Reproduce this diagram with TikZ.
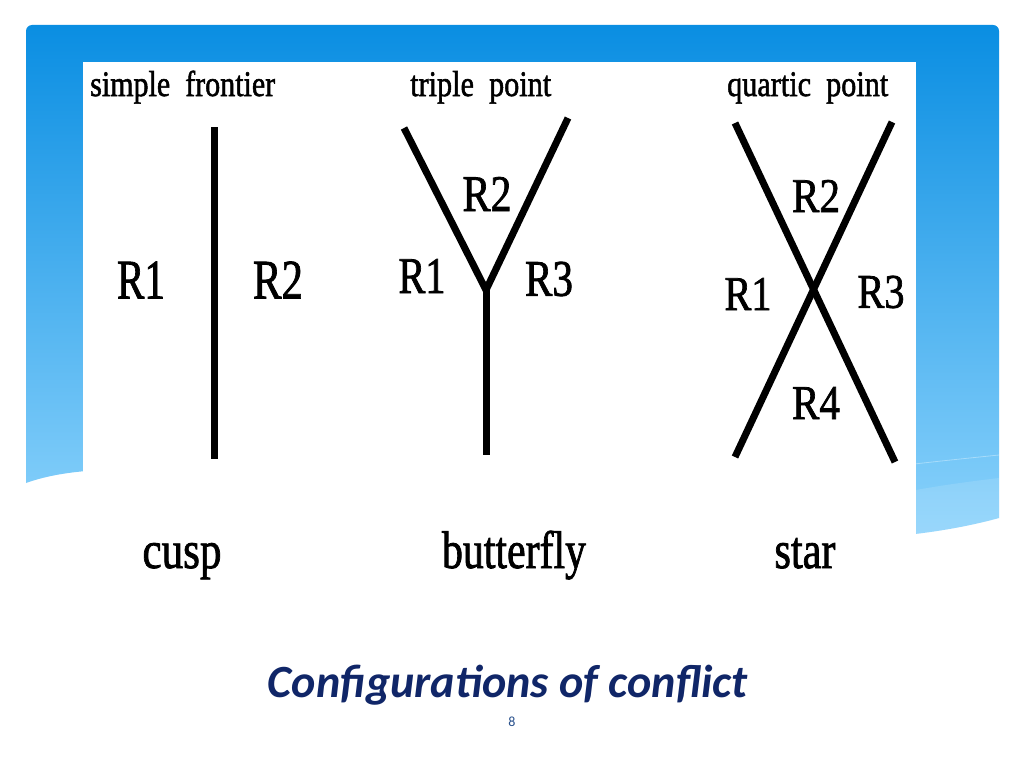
\documentclass[tikz,border=0pt]{standalone}
\usepackage{graphicx}
\usepackage{fontspec}
\setmainfont{Liberation Serif}
\newfontfamily\lblfont[BoldFont={Liberation Serif}, BoldFeatures={FakeBold=1.6}]{Liberation Serif}
\newfontfamily\titlefont{Carlito}
\definecolor{panTop}{RGB}{10,142,226}
\definecolor{panBot}{RGB}{155,219,255}
\definecolor{titleBlue}{RGB}{16,38,104}
\definecolor{numBlue}{RGB}{40,80,140}
\newcommand{\fitw}[2]{\resizebox{#1}{\height}{#2}}
\newcommand{\fitwh}[3]{\resizebox{#1}{#2}{#3}}
\tikzset{
  seg/.style={line width=7pt, line cap=butt, line join=miter},
  toplbl/.style={anchor=base west, inner sep=0pt, font=\lblfont\bfseries\fontsize{36}{36}\selectfont},
  botlbl/.style={anchor=base, inner sep=0pt, font=\lblfont\bfseries\fontsize{53}{53}\selectfont},
  reg/.style={anchor=center, inner sep=0pt, font=\lblfont\bfseries\fontsize{50}{50}\selectfont},
}
\begin{document}
\begin{tikzpicture}[x=1pt,y=-1pt]
\useasboundingbox (0,0) rectangle (1024,768);
\fill[white] (0,0) rectangle (1024,768);
% blue panel with wavy bottom
\def\panelpath{(26,483) -- (26,31) arc[start angle=180,end angle=270,radius=6] -- (993,25) arc[start angle=270,end angle=360,radius=6] -- (999,518) .. controls (700,600) and (200,420) .. (26,483) -- cycle}
\shade[top color=panTop, bottom color=panBot] \panelpath;
\begin{scope}
  \clip \panelpath;
  \fill[white, opacity=0.13] (600,600) .. controls (800,505) and (900,490) .. (999,478) -- (999,620) -- (600,620) -- cycle;
  \draw[white, opacity=0.35, line width=0.8pt] (880,468) .. controls (930,462) and (960,459) .. (999,455);
\end{scope}
% white picture area
\fill[white] (83,62) rectangle (916,543);
% top labels
\node[toplbl] (t1) at (90,96) {\fitw{185pt}{simple\ \ frontier}};
\node[toplbl] (t2) at (410,96) {\fitw{141pt}{triple\ \ point}};
\node[toplbl] (t3) at (727,96) {\fitw{161pt}{quartic\ \ point}};
% cusp
\coordinate (cT) at (214,127);
\coordinate (cB) at (214,459);
\draw[seg] (cT) -- (cB);
\node[reg] (c1) at (141,280) {\fitwh{48pt}{37pt}{R1}};
\node[reg] (c2) at (278,280) {\fitwh{50pt}{37pt}{R2}};
% butterfly
\coordinate (bL) at (404,128);
\coordinate (bR) at (568,118);
\coordinate (bJ) at (486,290);
\coordinate (bB) at (486,455);
\draw[seg] (bL) -- (bJ) -- (bR);
\draw[seg] (bJ) -- (bB);
\node[reg] (b2) at (487,194) {\fitwh{49pt}{34pt}{R2}};
\node[reg] (b1) at (422,276) {\fitwh{47pt}{34pt}{R1}};
\node[reg] (b3) at (549,279) {\fitwh{48pt}{34pt}{R3}};
% star
\coordinate (s1a) at (735,123);
\coordinate (s1b) at (895,462);
\coordinate (s2a) at (892,122);
\coordinate (s2b) at (735,457);
\draw[seg] (s1a) -- (s1b);
\draw[seg] (s2a) -- (s2b);
\node[reg] (s2) at (816,196) {\fitwh{48pt}{32pt}{R2}};
\node[reg] (s1) at (748,294) {\fitwh{47pt}{32pt}{R1}};
\node[reg] (s3) at (881,292) {\fitwh{47pt}{32pt}{R3}};
\node[reg] (s4) at (816,403) {\fitwh{48pt}{32pt}{R4}};
% bottom labels
\node[botlbl] (l1) at (182,568) {\fitw{79pt}{cusp}};
\node[botlbl] (l2) at (514,568) {\fitw{144pt}{butterfly}};
\node[botlbl] (l3) at (805,568) {\fitw{61pt}{star}};
% title
\node[anchor=base, inner sep=0pt, text=titleBlue] (title) at (508,697) {\resizebox{480pt}{!}{\titlefont\bfseries\itshape Configurations of conflict}};
\node[anchor=center, inner sep=0pt, text=numBlue, font=\titlefont\fontsize{14}{14}\selectfont] (pg) at (512,722) {8};
\end{tikzpicture}
\end{document}
